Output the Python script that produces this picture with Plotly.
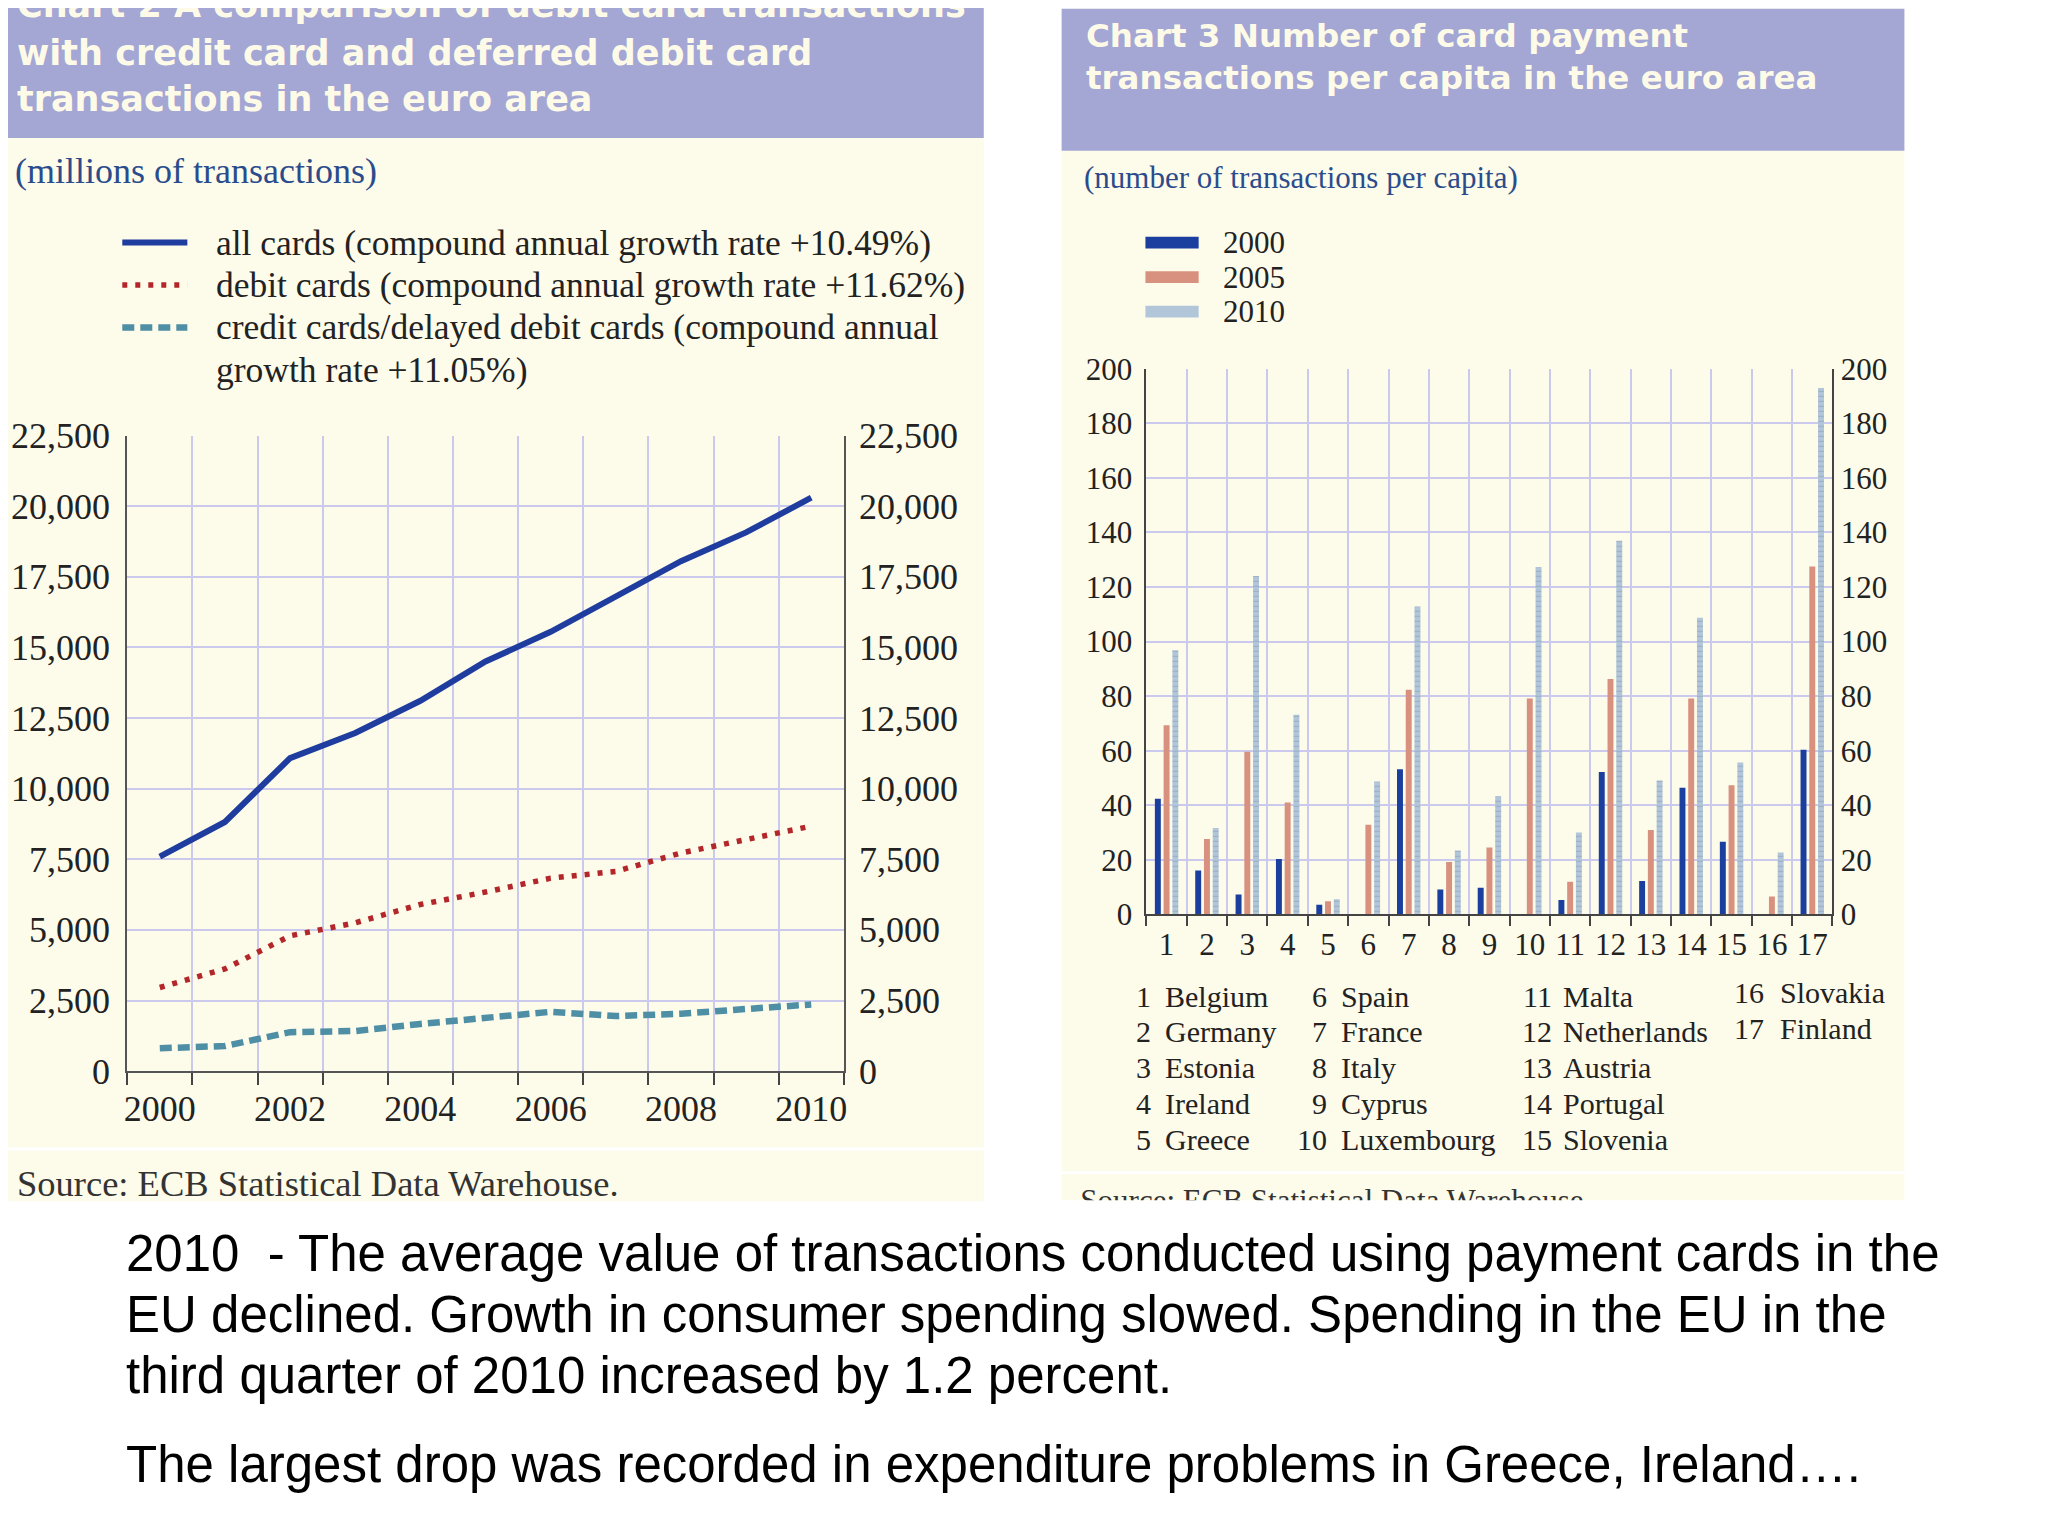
import plotly.graph_objects as go

# Figure size and the mapping from reference-picture positions to paper coords
# (compensates for where the page places the figure).
FW, FH = 2032, 1500


def px(x):
    return (0.9886 * x - 8) / FW


def py(y):
    return 1 - (1.0134 * y - 26.8) / FH


# ---------------- data: Chart 2 ----------------
years = list(range(2000, 2011))
year_labels = ["2000", "2002", "2004", "2006", "2008", "2010"]
all_cards = [7590, 8820, 11080, 11970, 13110, 14500, 15550, 16780, 18050, 19070, 20300]
debit_cards = [2960, 3620, 4790, 5250, 5900, 6340, 6830, 7070, 7720, 8210, 8670]
credit_cards = [810, 890, 1380, 1420, 1670, 1890, 2100, 1950, 2030, 2200, 2360]
series_names = [
    "all cards (compound annual growth rate +10.49%)",
    "debit cards (compound annual growth rate +11.62%)",
    "credit cards/delayed debit cards (compound annual",
    "growth rate +11.05%)",
]

# ---------------- data: Chart 3 ----------------
country_ids = list(range(1, 18))
countries = ["Belgium", "Germany", "Estonia", "Ireland", "Greece", "Spain", "France",
             "Italy", "Cyprus", "Luxembourg", "Malta", "Netherlands", "Austria",
             "Portugal", "Slovenia", "Slovakia", "Finland"]
per_capita_2000 = [42.4, 16.1, 7.3, 20.3, 3.5, None, 53.2, 9.1, 9.7, None, 5.2, 52.2,
                   12.2, 46.4, 26.6, None, 60.3]
per_capita_2005 = [69.3, 27.6, 59.6, 41.0, 4.8, 32.8, 82.3, 19.2, 24.5, 79.1, 11.9, 86.3,
                   30.9, 79.1, 47.3, 6.5, 127.5]
per_capita_2010 = [96.8, 31.6, 124.0, 73.2, 5.5, 48.7, 112.9, 23.4, 43.3, 127.3, 30.0,
                   137.0, 49.1, 108.7, 55.7, 22.7, 193.0]
bar_years = ["2000", "2005", "2010"]

# ---------------- styles ----------------
CREAM = "#fdfbea"
PURPLE = "#a4a6d4"
TITLE_TXT = "#fdfbe8"
GRID = "#cbcaee"
AXIS = "#555555"
SERIF = "Liberation Serif"
SANS_TITLE = "DejaVu Sans"
BLUE = "#1f3d9e"
RED = "#b3262a"
TEAL = "#4e8fa6"
BAR_COLORS = ["#1b3f9f", "#d9917f", "#b2c6da"]
LINE_STYLES = [dict(color=BLUE, width=6),
               dict(color=RED, width=5.5, dash="5px,8px"),
               dict(color=TEAL, width=6.5, dash="12px,6px")]

fig = go.Figure()

# ---- Chart 2 lines ----
fig.add_trace(go.Scatter(x=years, y=all_cards, mode="lines", name=series_names[0],
                         line=LINE_STYLES[0], xaxis="x", yaxis="y", showlegend=False))
fig.add_trace(go.Scatter(x=years, y=debit_cards, mode="lines", name=series_names[1],
                         line=LINE_STYLES[1], xaxis="x", yaxis="y", showlegend=False))
fig.add_trace(go.Scatter(x=years, y=credit_cards, mode="lines",
                         name=series_names[2] + " " + series_names[3],
                         line=LINE_STYLES[2], xaxis="x", yaxis="y2", showlegend=False))

# ---- Chart 3 bars ----
for vals, nm, col in zip([per_capita_2000, per_capita_2005, per_capita_2010], bar_years,
                         BAR_COLORS):
    kw = {}
    if nm == "2010":
        kw = dict(pattern=dict(shape="-", fgcolor="#8498b2", bgcolor=col, size=5,
                               solidity=0.25))
    fig.add_trace(go.Bar(x=country_ids, y=vals, name=nm, xaxis="x3", yaxis="y3",
                         marker=dict(color=col, line=dict(width=0), **kw),
                         showlegend=False))
# carrier for right-hand axis of chart 3
fig.add_trace(go.Scatter(x=country_ids, y=per_capita_2010, xaxis="x3", yaxis="y4",
                         mode="markers", marker=dict(opacity=0), showlegend=False,
                         hoverinfo="skip"))

# ---- clipped source line of chart 3 ----
SRC_Y = -0.1
fig.add_trace(go.Scatter(x=[0], y=[SRC_Y], mode="text",
                         text=["Source: ECB Statistical Data Warehouse."],
                         textposition="middle right",
                         textfont=dict(family=SERIF, size=31, color="#333333"),
                         xaxis="x5", yaxis="y5", showlegend=False, hoverinfo="skip",
                         cliponaxis=True))

# ---------------- geometry ----------------
c2 = dict(x0=126, x1=853, y0=440.6, y1=1085)
c3 = dict(x0=1160, x1=1856, y0=373, y1=926)

tickfont2 = dict(family=SERIF, size=36, color="#222222")
tickfont3 = dict(family=SERIF, size=31, color="#222222")

layout = dict(
    width=FW, height=FH, margin=dict(l=0, r=0, t=0, b=0),
    paper_bgcolor="white", plot_bgcolor="rgba(0,0,0,0)",
    barmode="group", bargap=0.35, bargroupgap=0.32,
    showlegend=False,
    xaxis=dict(domain=[px(c2["x0"]), px(c2["x1"])], anchor="y", range=[1999.5, 2010.5],
               tickmode="array", tickvals=[int(t) for t in year_labels],
               ticktext=year_labels, ticks="", showgrid=False, zeroline=False,
               showline=True, linecolor=AXIS, linewidth=2, tickfont=tickfont2,
               ticklabelstandoff=5,
               minor=dict(tick0=1999.5, dtick=1, showgrid=True, gridcolor=GRID,
                          gridwidth=1.5, ticks="outside", ticklen=12, tickwidth=2,
                          tickcolor="#444444")),
    yaxis=dict(domain=[py(c2["y1"]), py(c2["y0"])], anchor="x", range=[0, 22500],
               dtick=2500, tickformat=",", showgrid=True, gridcolor=GRID, gridwidth=1.5,
               zeroline=False, showline=True, linecolor=AXIS, linewidth=2, ticks="",
               tickfont=tickfont2, ticklabelstandoff=8),
    yaxis2=dict(overlaying="y", side="right", anchor="x", matches="y", range=[0, 22500],
                dtick=2500, tickformat=",", showgrid=False, zeroline=False,
                showline=True, linecolor=AXIS, linewidth=2, ticks="",
                tickfont=tickfont2, ticklabelstandoff=6),
    xaxis3=dict(domain=[px(c3["x0"]), px(c3["x1"])], anchor="y3", range=[0.5, 17.5],
                tickmode="array", tickvals=country_ids, ticks="", showgrid=False,
                zeroline=False, showline=True, linecolor="#444444", linewidth=2,
                tickfont=tickfont3, ticklabelstandoff=2,
                minor=dict(tick0=0.5, dtick=1, showgrid=True, gridcolor=GRID,
                           gridwidth=1.5, ticks="outside", ticklen=10, tickwidth=2,
                           tickcolor="#444444")),
    yaxis3=dict(domain=[py(c3["y1"]), py(c3["y0"])], anchor="x3", range=[0, 200],
                dtick=20, showgrid=True, gridcolor=GRID, gridwidth=1.5, zeroline=False,
                showline=True, linecolor="#444444", linewidth=2, ticks="",
                tickfont=tickfont3, ticklabelstandoff=6),
    yaxis4=dict(overlaying="y3", side="right", anchor="x3", matches="y3", range=[0, 200],
                dtick=20, showgrid=False, zeroline=False, showline=True,
                linecolor="#444444", linewidth=2, ticks="", tickfont=tickfont3,
                ticklabelstandoff=0),
    xaxis5=dict(domain=[px(1093), px(1929)], anchor="y5", range=[0, 1], visible=False),
    yaxis5=dict(domain=[py(1216), py(1190)], anchor="x5", range=[0, 1], visible=False),
)
fig.update_layout(**layout)

# ---------------- panels / legend keys (shapes) ----------------
shapes = []


def rect(x0, y0, x1, y1, color):
    shapes.append(dict(type="rect", xref="paper", yref="paper", x0=px(x0), x1=px(x1),
                       y0=py(y1), y1=py(y0), fillcolor=color, line=dict(width=0),
                       layer="below"))


def hline(x0, x1, y, line):
    shapes.append(dict(type="line", xref="paper", yref="paper", x0=px(x0), x1=px(x1),
                       y0=py(y), y1=py(y), line=line, layer="above"))


rect(0, 0, 995, 1217, CREAM)
rect(0, 0, 995, 139, PURPLE)
hline(0, 995, 1164, dict(color="white", width=3))
rect(1074, 8, 1929, 1216, CREAM)
rect(1074, 8, 1929, 152, PURPLE)
hline(1074, 1929, 1188, dict(color="white", width=3))

# chart 2 legend keys
legend2_y = [245, 288, 331, 374]
for yy, st in zip(legend2_y[:3], LINE_STYLES):
    hline(121, 187, yy, st)

# chart 3 legend swatches
legend3_y = [245, 280, 315]
for yy, col in zip(legend3_y, BAR_COLORS):
    rect(1159, yy - 6, 1213, yy + 6, col)

fig.update_layout(shapes=shapes)

# ---------------- text ----------------
ann = []
PAD = 4  # annotation inner padding compensation


def text(x, y, s, size, color="#222222", family=SERIF, anchor="left", weight=None):
    f = dict(family=family, size=size, color=color)
    if weight:
        f["weight"] = weight
    xx = x - PAD if anchor == "left" else x
    ann.append(dict(x=px(xx), y=py(y), xref="paper", yref="paper", text=s,
                    showarrow=False, xanchor=anchor, yanchor="middle", font=f,
                    align="left"))


# chart 2 title
for s, yy in zip(["Chart 2 A comparison of debit card transactions",
                  "with credit card and deferred debit card",
                  "transactions in the euro area"], [4, 53, 99]):
    text(16, yy, s, 35, TITLE_TXT, SANS_TITLE, weight=700)
text(14, 172, "(millions of transactions)", 36, "#2b4c8c")

# chart 2 legend labels
for s, yy in zip(series_names, legend2_y):
    text(218, yy, s, 35.5)

# chart 3 title
for s, yy in zip(["Chart 3 Number of card payment",
                  "transactions per capita in the euro area"], [36, 78]):
    text(1101, yy, s, 32.5, TITLE_TXT, SANS_TITLE, weight=700)
text(1099, 179, "(number of transactions per capita)", 31, "#2b4c8c")

# chart 3 legend labels
for yy, nm in zip(legend3_y, bar_years):
    text(1240, yy, nm, 31)

# country key
col_num_x = [1167, 1345, 1574, 1789]
col_name_x = [1181, 1359, 1585, 1805]
row_y = [1009, 1045, 1081, 1118, 1154]
row_y4 = [1005, 1042]
for i, (cid, cname) in enumerate(zip(country_ids, countries)):
    col, row = divmod(i, 5)
    yy = row_y4[row] if col == 3 else row_y[row]
    text(col_num_x[col], yy, str(cid), 30, anchor="right")
    text(col_name_x[col], yy, cname, 30)

# chart 2 source
text(16, 1199, "Source: ECB Statistical Data Warehouse.", 36.5, "#333333")

# bottom paragraph
para = ["2010  - The average value of transactions conducted using payment cards in the",
        "EU declined. Growth in consumer spending slowed. Spending in the EU in the",
        "third quarter of 2010 increased by 1.2 percent.",
        "The largest drop was recorded in expenditure problems in Greece, Ireland\u2026."]
for s, yy in zip(para, [1270, 1332, 1394, 1484]):
    text(127, yy, s, 51, "#000000", "Liberation Sans")

fig.update_layout(annotations=ann)

fig.write_html("out.html")
